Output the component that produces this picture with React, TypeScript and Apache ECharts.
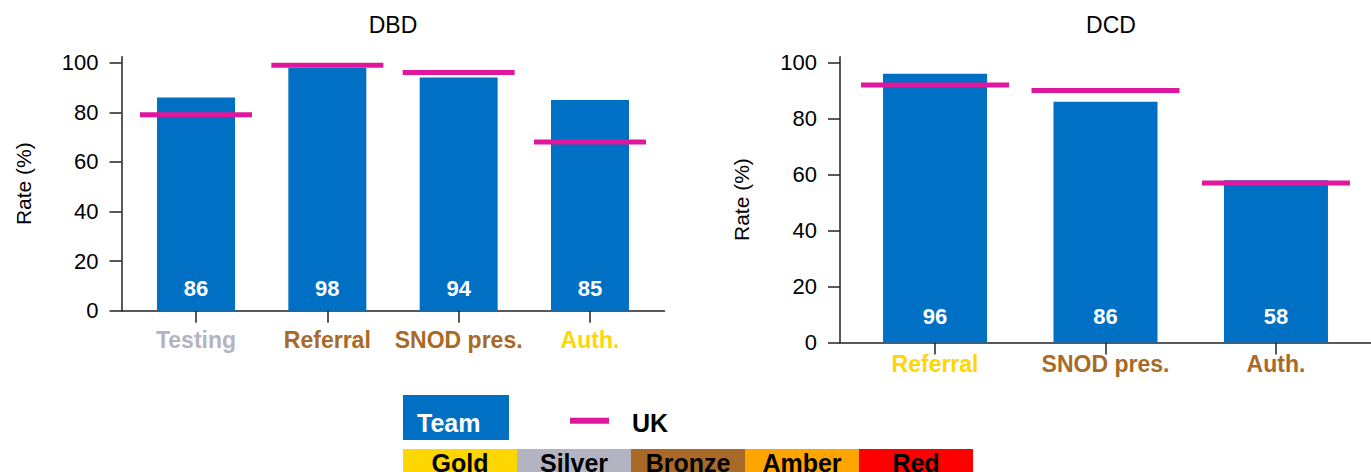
import React, { useEffect, useRef } from "react";
import * as echarts from "echarts";

const dbdCategories = ["Testing", "Referral", "SNOD pres.", "Auth."];
const dbdTeam = [86, 98, 94, 85];
const dbdUK = [79, 99, 96, 68];
const dbdLabelRating = ["silver", "bronze", "bronze", "gold"];

const dcdCategories = ["Referral", "SNOD pres.", "Auth."];
const dcdTeam = [96, 86, 58];
const dcdUK = [92, 90, 57];
const dcdLabelRating = ["gold", "bronze", "bronze"];

const yTicks = [0, 20, 40, 60, 80, 100];
const ratingNames = ["Gold", "Silver", "Bronze", "Amber", "Red"];
const ratingColors = ["#FFD700", "#B3B3C2", "#A86A26", "#FFA500", "#FF0000"];

const FONT = "'Liberation Sans', Arial, Helvetica, sans-serif";
const BLUE = "#0070C4";
const MAGENTA = "#E0179C";
const AXIS = "#222222";

const rich = {
  gold: { color: "#FFD700", fontSize: 23, fontWeight: "bold", fontFamily: FONT },
  silver: { color: "#B3B3C2", fontSize: 23, fontWeight: "bold", fontFamily: FONT },
  bronze: { color: "#A86A26", fontSize: 23, fontWeight: "bold", fontFamily: FONT },
};

function makeXAxis(gridIndex: number, cats: string[], ratings: string[], pad: number, margin: number) {
  const idx = cats.map((_, i) => i);
  return {
    type: "value",
    gridIndex,
    min: -0.5 - pad,
    max: cats.length - 0.5 + pad,
    splitLine: { show: false },
    axisLine: { show: true, onZero: false, lineStyle: { color: AXIS, width: 1.5 } },
    axisTick: { show: true, length: 12, customValues: idx, lineStyle: { color: AXIS, width: 1.5 } },
    axisLabel: {
      show: true,
      customValues: idx,
      margin,
      formatter: (v: number) => {
        const i = Math.round(v);
        return "{" + ratings[i] + "|" + cats[i] + "}";
      },
      rich,
    },
  };
}

function makeYAxis(gridIndex: number, max: number) {
  return {
    type: "value",
    gridIndex,
    min: 0,
    max,
    name: "Rate (%)",
    nameLocation: "middle",
    nameGap: 88,
    nameTextStyle: { fontSize: 21, fontFamily: FONT, color: "#000" },
    splitLine: { show: false },
    axisLine: { show: true, onZero: false, lineStyle: { color: AXIS, width: 1.5 } },
    axisTick: { show: true, length: 12, customValues: yTicks, lineStyle: { color: AXIS, width: 1.5 } },
    axisLabel: {
      show: true,
      customValues: yTicks,
      margin: 23,
      fontSize: 22,
      fontFamily: FONT,
      color: "#000",
    },
  };
}

export default function App() {
  const ref = useRef<HTMLDivElement>(null);
  useEffect(() => {
    if (!ref.current) return;
    const chart = echarts.init(ref.current, null, { renderer: "svg" });

    const legendGraphics: any[] = [
      { type: "rect", shape: { x: 403, y: 395, width: 106, height: 45 }, style: { fill: BLUE } },
      {
        type: "text",
        x: 417,
        y: 423,
        style: { text: "Team", fill: "#fff", fontSize: 25, fontWeight: "bold", fontFamily: FONT, textVerticalAlign: "middle" },
      },
      { type: "line", shape: { x1: 570, y1: 420.7, x2: 609, y2: 420.7 }, style: { stroke: MAGENTA, lineWidth: 6 } },
      {
        type: "text",
        x: 632,
        y: 423,
        style: { text: "UK", fill: "#000", fontSize: 25, fontWeight: "bold", fontFamily: FONT, textVerticalAlign: "middle" },
      },
    ];
    ratingNames.forEach((name, i) => {
      legendGraphics.push({
        type: "rect",
        shape: { x: 403 + i * 114, y: 449, width: 114, height: 30 },
        style: { fill: ratingColors[i] },
      });
      legendGraphics.push({
        type: "text",
        x: 403 + i * 114 + 57,
        y: 450,
        style: {
          text: name,
          fill: "#000",
          fontSize: 25,
          fontWeight: "bold",
          fontFamily: FONT,
          textAlign: "center",
          textVerticalAlign: "top",
        },
      });
    });

    const option: any = {
      animation: false,
      backgroundColor: "#ffffff",
      graphic: [
        {
          type: "text",
          x: 393,
          y: 13,
          style: { text: "DBD", fill: "#000", fontSize: 23, fontFamily: FONT, textAlign: "center", textVerticalAlign: "top" },
        },
        {
          type: "text",
          x: 1111,
          y: 13,
          style: { text: "DCD", fill: "#000", fontSize: 23, fontFamily: FONT, textAlign: "center", textVerticalAlign: "top" },
        },
        ...legendGraphics,
      ],
      grid: [
        { left: 121.5, top: 56.7, width: 543, height: 254, containLabel: false },
        { left: 840, top: 56.7, width: 542, height: 285.8, containLabel: false },
      ],
      xAxis: [
        makeXAxis(0, dbdCategories, dbdLabelRating, 0.0674, 18),
        makeXAxis(1, dcdCategories, dcdLabelRating, 0.0575, 10),
      ],
      yAxis: [makeYAxis(0, 102.42), makeYAxis(1, 102.1)],
      series: [
        {
          type: "bar",
          name: "Team",
          xAxisIndex: 0,
          yAxisIndex: 0,
          barWidth: 78,
          data: dbdTeam.map((v, i) => [i, v]),
          itemStyle: { color: BLUE },
          label: {
            show: true,
            position: "insideBottom",
            distance: 11,
            color: "#fff",
            fontSize: 22,
            fontWeight: "bold",
            fontFamily: FONT,
            formatter: (p: any) => String(p.value[1]),
          },
          z: 2,
        },
        {
          type: "scatter",
          name: "UK",
          xAxisIndex: 0,
          yAxisIndex: 0,
          symbol: "rect",
          symbolSize: [112, 5],
          data: dbdUK.map((v, i) => [i, v]),
          itemStyle: { color: MAGENTA, opacity: 1 },
          z: 3,
        },
        {
          type: "bar",
          name: "Team",
          xAxisIndex: 1,
          yAxisIndex: 1,
          barWidth: 104,
          data: dcdTeam.map((v, i) => [i, v]),
          itemStyle: { color: BLUE },
          label: {
            show: true,
            position: "insideBottom",
            distance: 15,
            color: "#fff",
            fontSize: 22,
            fontWeight: "bold",
            fontFamily: FONT,
            formatter: (p: any) => String(p.value[1]),
          },
          z: 2,
        },
        {
          type: "scatter",
          name: "UK",
          xAxisIndex: 1,
          yAxisIndex: 1,
          symbol: "rect",
          symbolSize: [148, 5],
          data: dcdUK.map((v, i) => [i, v]),
          itemStyle: { color: MAGENTA, opacity: 1 },
          z: 3,
        },
      ],
    };
    chart.setOption(option);
    return () => chart.dispose();
  }, []);
  return (
    <div
      ref={ref}
      style={{ position: "absolute", left: 0, top: 0, width: 1371, height: 472, background: "#fff" }}
    />
  );
}
